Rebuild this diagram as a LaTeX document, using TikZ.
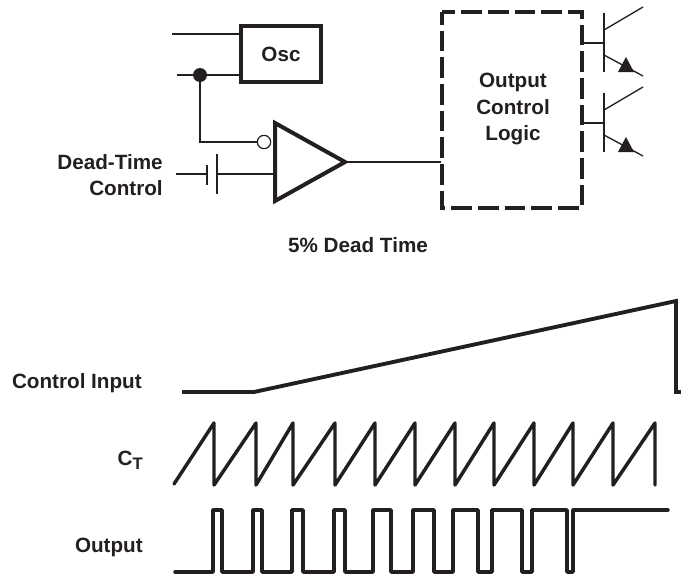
\documentclass[tikz,border=0pt]{standalone}
\usepackage{fontspec}
\setmainfont{Liberation Sans}
\definecolor{ink}{HTML}{231F20}
\tikzset{
  thin wire/.style={draw=ink,line width=1pt},
  thick box/.style={draw=ink,line width=3pt,line join=miter},
  wave/.style={draw=ink,line width=2.6pt,line join=round,line cap=round},
  lbl/.style={font=\bfseries\fontsize{15.5pt}{18pt}\selectfont,text=ink,inner sep=0pt,align=center},
}
\begin{document}
\begin{tikzpicture}[x=0.75pt,y=-0.75pt]
\useasboundingbox (0,0) rectangle (681,575);
% Osc
\node[thick box,minimum width=60pt,minimum height=42pt,inner sep=0pt,outer sep=0pt,anchor=north west] (osc) at (241,26) {};
\node[lbl] (osct) at (281,54) {Osc};
\coordinate (t1) at (172,34);
\coordinate (t2) at (177,75);
\draw[thin wire] (t1) -- (t1-|osc.west);
\draw[thin wire] (t2) -- (t2-|osc.west);
\node[circle,fill=ink,minimum size=10.5pt,inner sep=0pt] (dot) at (200,75) {};
\node[circle,draw=ink,line width=0.9pt,fill=white,minimum size=10pt,inner sep=0pt] (inv) at (264,142) {};
\draw[thin wire] (dot.center) -- (200,142) -- (inv.west);
% comparator
\coordinate (a1) at (275,123);
\coordinate (a2) at (275,201);
\coordinate (a3) at (345,162);
\draw[thick box] (a1) -- (a2) -- (a3) -- cycle;
% capacitor
\coordinate (c0) at (176,174);
\coordinate (p1) at (207,174);
\coordinate (p2) at (217,174);
\coordinate (c1) at (275,174);
\draw[thin wire] (c0) -- (p1);
\draw[thin wire] (p2) -- (c1);
\draw[thin wire] (207,165) -- (207,185);
\draw[thin wire] (217,154) -- (217,194);
% dashed box
\draw[draw=ink,line width=3pt,dash pattern=on 15.5pt off 4.5pt,dash phase=6pt] (442,12) rectangle (582,208);
\node[lbl] (ocl) at (513,109) {Output\\[2pt]Control\\[2pt]Logic};
\coordinate (dbin) at (441,162);
\draw[thin wire] (a3) -- (dbin);
% transistors
\foreach \dy in {0,80}{
  \draw[thin wire] (582,43+\dy) -- (604,43+\dy);
  \draw[draw=ink,line width=1.2pt] (604,13+\dy) -- (604,72+\dy);
  \draw[thin wire] (604,30+\dy) -- (643,7+\dy);
  \draw[thin wire] (604,55+\dy) -- (643,76+\dy);
  \fill[ink] (618,72+\dy) -- (634,72+\dy) -- (626,57+\dy) -- cycle;
}
% labels
\node[lbl,align=right,anchor=east] (dtc) at (163,175) {Dead-Time\\[1.5pt]Control};
\node[lbl] (dt) at (358,245) {5\% Dead Time};
\node[lbl,anchor=base east] (ci) at (142,388) {Control Input};
\node[lbl,anchor=base east] (ct) at (143,465) {C\raisebox{-3.5pt}{\fontsize{12.5pt}{14pt}\selectfont T}};
\node[lbl,anchor=base east] (outl) at (143,552.5) {Output};
% waves
\draw[wave,line width=2.9pt,line cap=butt,line join=miter] (182,392) -- (254,392) -- (676,301) -- (676,392) -- (681,392);
\draw[wave] (174,484) -- (214,423) -- (214,485) -- (256,423) -- (256,485) -- (293,423) -- (293,485) -- (335,423) -- (335,485) -- (375,423) -- (375,485) -- (415,423) -- (415,485) -- (455,423) -- (455,485) -- (494,423) -- (494,485) -- (534,423) -- (534,485) -- (573,423) -- (573,485) -- (613,423) -- (613,485) -- (655,423) -- (655,485);
\draw[wave] (175,572) -- (213,572) -- (213,510) -- (222,510) -- (222,572) -- (253,572) -- (253,510) -- (262,510) -- (262,572) -- (292,572) -- (292,510) -- (303,510) -- (303,572) -- (334,572) -- (334,510) -- (345,510) -- (345,572) -- (373,572) -- (373,510) -- (391,510) -- (391,572) -- (413,572) -- (413,510) -- (434,510) -- (434,572) -- (453,572) -- (453,510) -- (478,510) -- (478,572) -- (492,572) -- (492,510) -- (522,510) -- (522,572) -- (532,572) -- (532,510) -- (567,510) -- (567,572) -- (573,572) -- (573,510) -- (668,510);
\end{tikzpicture}
\end{document}
